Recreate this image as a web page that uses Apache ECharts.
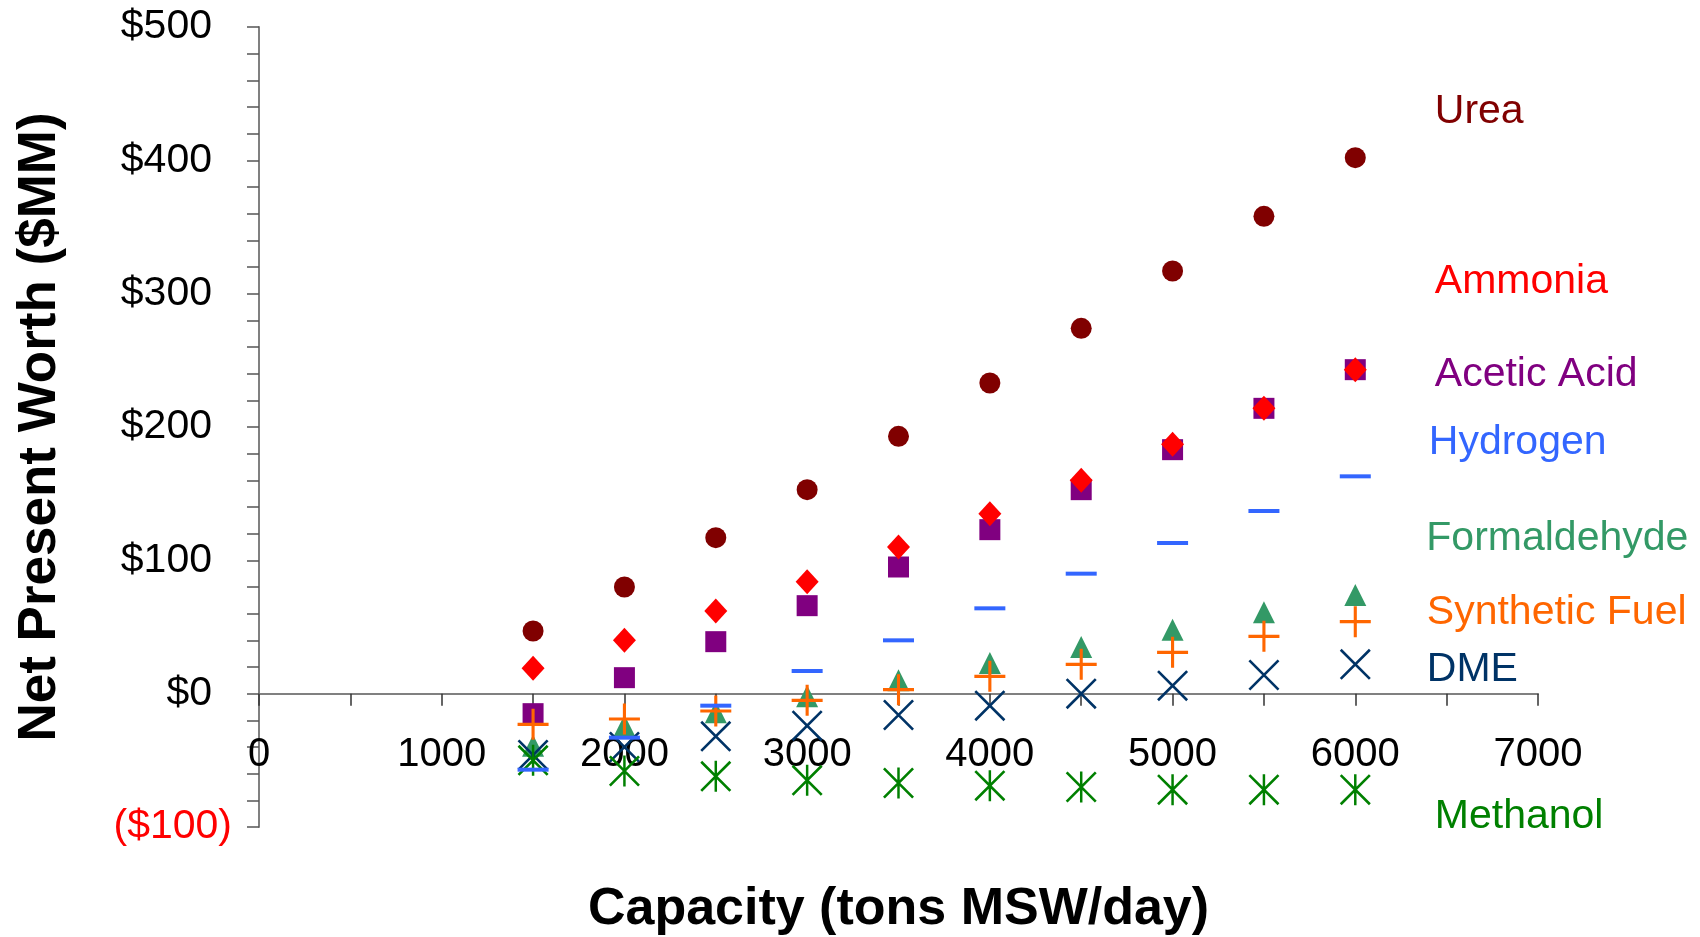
<!DOCTYPE html>
<html>
<head>
<meta charset="utf-8">
<title>Net Present Worth vs Capacity</title>
<script src="https://cdn.jsdelivr.net/npm/echarts@6.0.0/dist/echarts.min.js"></script>
<style>
html, body { margin: 0; padding: 0; background: #fff; }
#npwChart { width: 1700px; height: 937px; }
</style>
</head>
<body>
<div id="npwChart"></div>
<script>
// capacity (tons MSW/day)
var capacity = [1500, 2000, 2500, 3000, 3500, 4000, 4500, 5000, 5500, 6000];

// net present worth ($MM)
var urea = [47, 80, 117, 153, 193, 233, 274, 317, 358, 402];
var ammonia = [19, 40, 62, 84, 110, 135, 160, 187, 214, 243];
var aceticAcid = [-15, 12, 39, 66, 95, 123, 153, 183, 214, 243];
var hydrogen = [-57, -33, -9, 17, 40, 64, 90, 113, 137, 163];
var formaldehyde = [-39, -24, -14, -2, 10, 23, 35, 48, 61, 74];
var syntheticFuel = [-23, -19, -13, -5, 3, 13, 22, 31, 43, 54];
var dme = [-46, -40, -32, -24, -16, -9, 0, 6, 14, 22];
var methanol = [-50, -58, -62, -65, -67, -69, -70, -72, -72, -72];

var FONT = 'Liberation Sans, Arial, Helvetica, sans-serif';

// plot box (px)
var GRID_TOP = 27, GRID_BOTTOM = 110, GRID_H = 937 - GRID_TOP - GRID_BOTTOM;
var Y_MIN = -100, Y_MAX = 500;
// x axis crosses at $0: shift it up from the bottom of the plot
var X_SHIFT = -GRID_H * (0 - Y_MIN) / (Y_MAX - Y_MIN);

// stroke-like marker shapes as filled paths (100x100 box)
var PLUS = 'path://M0,45L100,45L100,55L0,55Z M45,0L55,0L55,100L45,100Z';
var CROSS = 'path://M0,6L6,0L100,94L94,100Z M94,0L100,6L6,100L0,94Z';
var STAR = 'path://M0,6L6,0L100,94L94,100Z M94,0L100,6L6,100L0,94Z M46,0L54,0L54,100L46,100Z';

// name label goes on the last point of each series
function points(vals, name, color, offset) {
	return capacity.map(function (c, i) {
		var d = { value: [c, vals[i]] };
		if (i == vals.length - 1) {
			d.label = {
				show: true,
				position: 'right',
				distance: 0,
				offset: offset,
				formatter: name,
				color: color,
				fontSize: 41,
				fontFamily: FONT
			};
		}
		return d;
	});
}

function scatter(name, vals, color, symbol, size, offset) {
	return {
		name: name,
		type: 'scatter',
		symbol: symbol,
		symbolSize: size,
		itemStyle: { color: color, opacity: 1 },
		emphasis: { disabled: true },
		data: points(vals, name, color, offset)
	};
}

var chart = echarts.init(document.getElementById('npwChart'));
var option = {
	animation: false,
	backgroundColor: '#ffffff',
	grid: { left: 259, right: 162, top: GRID_TOP, bottom: GRID_BOTTOM, containLabel: false, outerBoundsMode: 'none' },
	xAxis: {
		type: 'value',
		min: 0,
		max: 7000,
		interval: 1000,
		offset: X_SHIFT,
		name: 'Capacity (tons MSW/day)',
		nameLocation: 'middle',
		nameGap: 190,
		nameTextStyle: { fontSize: 52, fontWeight: 'bold', color: '#000', fontFamily: FONT },
		axisLine: { onZero: false, lineStyle: { color: '#808080', width: 2 } },
		axisTick: { show: true, length: 12, lineStyle: { color: '#333', width: 1.5 } },
		minorTick: { show: true, splitNumber: 2, length: 12, lineStyle: { color: '#333', width: 1.5 } },
		axisLabel: {
			fontSize: 40, color: '#000', margin: 41, fontFamily: FONT,
			formatter: function (v) { return String(v); }
		},
		splitLine: { show: false }
	},
	yAxis: {
		type: 'value',
		min: Y_MIN,
		max: Y_MAX,
		interval: 100,
		name: 'Net Present Worth ($MM)',
		nameLocation: 'middle',
		nameGap: 192,
		nameTextStyle: { fontSize: 53, fontWeight: 'bold', color: '#000', fontFamily: FONT },
		axisLine: { show: true, lineStyle: { color: '#808080', width: 2 } },
		axisTick: { show: true, length: 12, lineStyle: { color: '#555', width: 1.5 } },
		minorTick: { show: true, splitNumber: 5, length: 12, lineStyle: { color: '#555', width: 1.5 } },
		axisLabel: {
			margin: 27,
			fontFamily: FONT,
			formatter: function (v) {
				if (v < 0) return '{neg|($' + Math.abs(v) + ')}';
				return '{pos|$' + v + '}';
			},
			rich: {
				pos: { fontSize: 41, color: '#000', fontFamily: FONT, padding: [0, 20, 0, 0] },
				neg: { fontSize: 41, color: '#ff0000', fontFamily: FONT }
			}
		},
		splitLine: { show: false }
	},
	series: [
		scatter('Acetic Acid', aceticAcid, '#800080', 'rect', 21, [69, 5]),
		scatter('Ammonia', ammonia, '#ff0000', 'diamond', [23, 25], [68, -88]),
		scatter('Urea', urea, '#800000', 'circle', 21, [69, -46]),
		scatter('Formaldehyde', formaldehyde, '#339966', 'triangle', 22, [60, -56]),
		scatter('Synthetic Fuel', syntheticFuel, '#ff6600', PLUS, 31, [56, -9]),
		scatter('DME', dme, '#003366', CROSS, 31, [56, 5]),
		scatter('Methanol', methanol, '#008000', STAR, 31, [64, 27]),
		scatter('Hydrogen', hydrogen, '#3366ff', 'rect', [31, 4], [58, -34])
	]
};
chart.setOption(option);
</script>
</body>
</html>
